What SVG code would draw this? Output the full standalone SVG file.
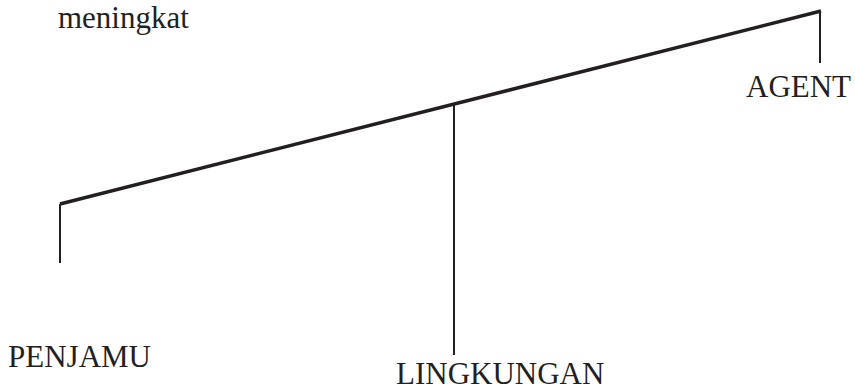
<svg xmlns="http://www.w3.org/2000/svg" width="855" height="392" viewBox="0 0 855 392">
<style>
.t{font-family:"Liberation Serif","Times New Roman",serif;font-size:31px;fill:#231f20}
.l{stroke:#231f20;fill:none;stroke-width:2}
.b{stroke:#231f20;fill:none;stroke-width:3.5}
</style>
<rect width="855" height="392" fill="#fff"/>
<g id="connectors">
<line class="b" x1="60" y1="204" x2="821" y2="11"/>
<line class="l" x1="60" y1="204" x2="60" y2="263"/>
<line class="l" x1="454" y1="104" x2="454" y2="355"/>
<line class="l" x1="820" y1="11" x2="820" y2="63"/>
</g>
<g id="meningkat"><text class="t" x="58" y="28">meningkat</text></g>
<g id="agent"><text class="t" x="746" y="97">AGENT</text></g>
<g id="penjamu"><text class="t" x="8" y="367">PENJAMU</text></g>
<g id="lingkungan"><text class="t" x="396" y="384">LINGKUNGAN</text></g>
</svg>
